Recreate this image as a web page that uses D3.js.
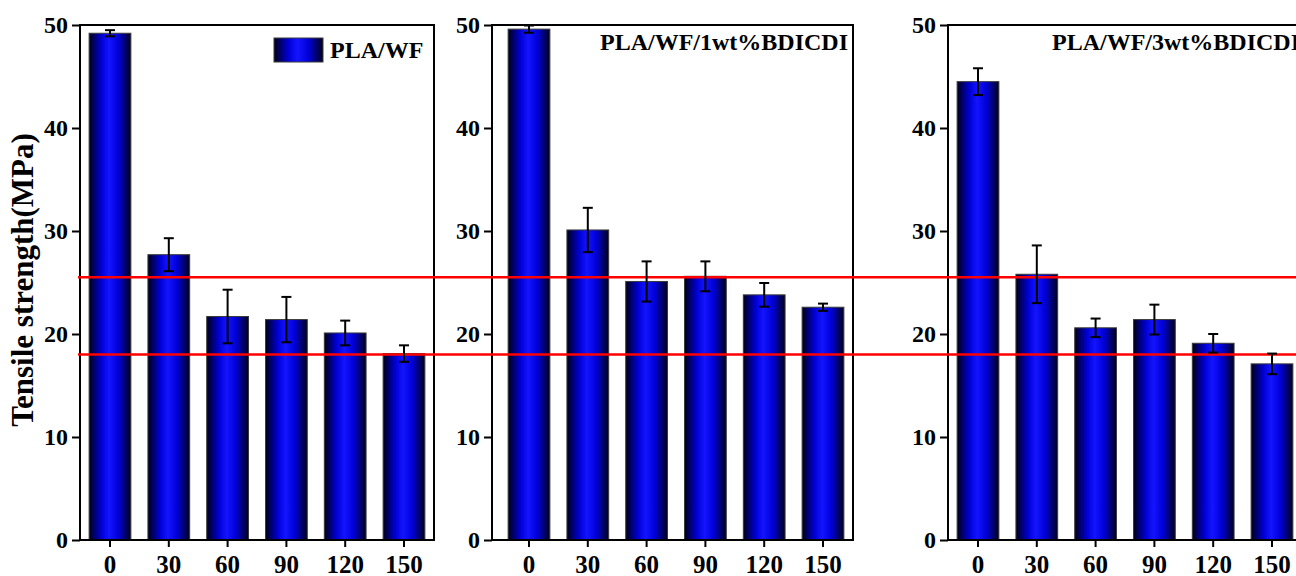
<!DOCTYPE html>
<html>
<head>
<meta charset="utf-8">
<script src="https://cdn.jsdelivr.net/npm/d3@7"></script>
<style>
  body { margin: 0; background: #fff; }
  text { font-family: "Liberation Serif", "Times New Roman", serif; font-weight: bold; }
</style>
</head>
<body>
<div id="chart"></div>
<script>
// data
const times = ["0", "30", "60", "90", "120", "150"];
const yTicks = [0, 10, 20, 30, 40, 50];
const panelNames = ["PLA/WF", "PLA/WF/1wt%BDICDI", "PLA/WF/3wt%BDICDI"];
const plaWF = [49.2, 27.7, 21.7, 21.4, 20.1, 18.1];
const plaWFErr = [0.3, 1.6, 2.6, 2.2, 1.2, 0.8];
const bd1 = [49.6, 30.1, 25.1, 25.6, 23.8, 22.6];
const bd1Err = [0.35, 2.15, 1.95, 1.45, 1.15, 0.35];
const bd3 = [44.5, 25.8, 20.6, 21.4, 19.1, 17.1];
const bd3Err = [1.3, 2.8, 0.9, 1.45, 0.9, 1.0];
const refLines = [25.5, 18.0];

const W = 1296, H = 576;
const svg = d3.select("#chart").append("svg")
  .attr("width", W).attr("height", H);

// bar fill: dark edges, bright blue centre
const grad = svg.append("defs").append("linearGradient")
  .attr("id", "barGrad").attr("x1", "0%").attr("x2", "100%").attr("y1", "0%").attr("y2", "0%");
[["0%", "#00001a"], ["30%", "#0000d8"], ["48%", "#1414ff"], ["70%", "#0000d8"], ["100%", "#00001a"]]
  .forEach(s => grad.append("stop").attr("offset", s[0]).attr("stop-color", s[1]));

const y = d3.scaleLinear().domain([0, 50]).range([540, 25]);

// frame left/right and band range of each panel
const panels = [
  {left: 80, right: 434, r: [80.6, 433.4], vals: plaWF, errs: plaWFErr},
  {left: 492, right: 853, r: [499.6, 852.4], vals: bd1, errs: bd1Err},
  {left: 948, right: 1303, r: [948.6, 1301.4], vals: bd3, errs: bd3Err}
];

panels.forEach(p => {
  const x = d3.scaleBand().domain(times).range(p.r).paddingInner(0.29).paddingOuter(0.145);
  const g = svg.append("g");
  const data = times.map((t, i) => ({t, v: p.vals[i], e: p.errs[i]}));

  g.selectAll("rect.bar")
    .data(data)
    .join("rect")
      .attr("class", "bar")
      .attr("x", d => x(d.t))
      .attr("y", d => y(d.v))
      .attr("width", x.bandwidth())
      .attr("height", d => y(0) - y(d.v))
      .attr("fill", "url(#barGrad)")
      .attr("stroke", "#3a3a3a")
      .attr("stroke-width", 1);

  p.x = x;
  p.data = data;

  // y axis
  const ya = g.append("g")
    .attr("transform", `translate(${p.left},0)`)
    .call(d3.axisLeft(y).tickValues(yTicks).tickSize(8).tickPadding(4));
  ya.select(".domain").remove();
  ya.selectAll("line").attr("stroke", "#000").attr("stroke-width", 2);
  ya.selectAll("text").attr("font-size", 24).attr("fill", "#000")
    .style("font-family", "'Liberation Serif', serif").style("font-weight", "bold");

  // x axis
  const xa = g.append("g")
    .attr("transform", `translate(0,${y(0)})`)
    .call(d3.axisBottom(x).tickSize(7).tickPadding(8));
  xa.select(".domain").remove();
  xa.selectAll("line").attr("stroke", "#000").attr("stroke-width", 2);
  xa.selectAll("text").attr("font-size", 25).attr("fill", "#000")
    .style("font-family", "'Liberation Serif', serif").style("font-weight", "bold");

  // frame
  g.append("rect")
    .attr("x", p.left).attr("y", y(50))
    .attr("width", p.right - p.left).attr("height", y(0) - y(50))
    .attr("fill", "none").attr("stroke", "#000").attr("stroke-width", 2);
});

// red reference lines across all panels
svg.selectAll("line.ref")
  .data(refLines)
  .join("line")
    .attr("class", "ref")
    .attr("x1", 78).attr("x2", W)
    .attr("y1", d => y(d)).attr("y2", d => y(d))
    .attr("stroke", "#ff0000").attr("stroke-width", 2.5);

// error bars
panels.forEach(p => {
  const x = p.x;
  const eg = svg.append("g").attr("stroke", "#000").attr("stroke-width", 2);
  const cx = d => x(d.t) + x.bandwidth() / 2;
  eg.selectAll("line.v").data(p.data).join("line").attr("class", "v")
    .attr("x1", cx).attr("x2", cx)
    .attr("y1", d => y(d.v + d.e)).attr("y2", d => y(d.v - d.e));
  eg.selectAll("line.t").data(p.data).join("line").attr("class", "t")
    .attr("x1", d => cx(d) - 5).attr("x2", d => cx(d) + 5)
    .attr("y1", d => y(d.v + d.e)).attr("y2", d => y(d.v + d.e));
  eg.selectAll("line.b").data(p.data).join("line").attr("class", "b")
    .attr("x1", d => cx(d) - 5).attr("x2", d => cx(d) + 5)
    .attr("y1", d => y(d.v - d.e)).attr("y2", d => y(d.v - d.e));
});

// legend in panel 1
svg.append("rect")
  .attr("x", 274).attr("y", 38).attr("width", 49).attr("height", 24)
  .attr("fill", "url(#barGrad)").attr("stroke", "#3a3a3a").attr("stroke-width", 1);
svg.append("text")
  .attr("x", 330).attr("y", 58)
  .attr("font-size", 24)
  .text(panelNames[0]);

// titles of panels 2 and 3
svg.append("text")
  .attr("x", 848).attr("y", 50)
  .attr("text-anchor", "end")
  .attr("font-size", 24)
  .text(panelNames[1]);
svg.append("text")
  .attr("x", 1052).attr("y", 50)
  .attr("font-size", 24)
  .text(panelNames[2]);

// y axis title
svg.append("text")
  .attr("transform", "translate(33,280) rotate(-90)")
  .attr("text-anchor", "middle")
  .attr("font-size", 31)
  .text("Tensile strength(MPa)");
</script>
</body>
</html>
